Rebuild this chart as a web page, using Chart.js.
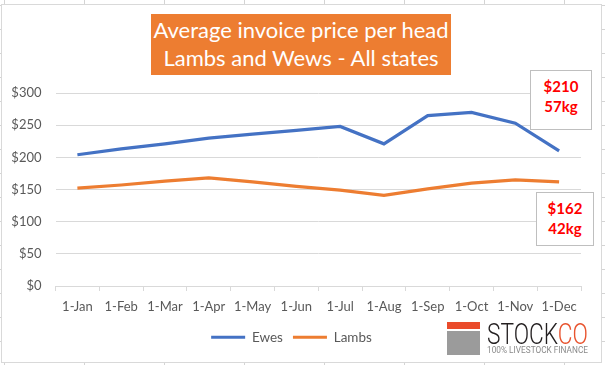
<!DOCTYPE html>
<html>
<head>
<meta charset="utf-8">
<script src="https://cdn.jsdelivr.net/npm/chart.js@4.4.1/dist/chart.umd.min.js"></script>
<style>
  html, body { margin: 0; padding: 0; }
  body {
    width: 605px; height: 365px; position: relative; overflow: hidden; background: #fff;
    background-image:
      linear-gradient(to right, #d4d4d4 1px, transparent 1px),
      linear-gradient(to bottom, #d4d4d4 1px, transparent 1px);
    background-size: 80px 100%, 100% 24px;
    background-position: 4px 0, 0 5px;
    font-family: Lato, "Open Sans", sans-serif;
  }
  #frame {
    position: absolute; left: 1px; top: 4px; width: 601px; height: 359px;
    box-sizing: border-box; border: 1px solid #d9d9d9; background: #fff;
  }
  #c { position: absolute; left: 0; top: 0; }
  #title {
    position: absolute; left: 149px; top: 9px; width: 300px; height: 61px;
    background: #ED7D31; color: #fff; font-size: 22px; line-height: 28px;
    text-align: center; padding-top: 2px; box-sizing: border-box;
  }
  .note {
    position: absolute; box-sizing: border-box; border: 1px solid #bfbfbf; background: #fff;
    color: #ff0000; font-weight: bold; font-size: 15px; line-height: 20px; text-align: center;
  }
  #note1 { left: 528px; top: 65px; width: 62px; height: 60px; padding-top: 5px; }
  #note2 { left: 534px; top: 187px; width: 58px; height: 54px; padding-top: 5px; }
  #logo-red { position: absolute; left: 445px; top: 317px; width: 33px; height: 7px; background: #EA4B2B; }
  #logo-grey { position: absolute; left: 445px; top: 326px; width: 33px; height: 24px; background: #9b9b9b; }
  #logo-word { position: absolute; left: 485px; top: 312px; font-family: Roboto, sans-serif; font-weight: 300; font-size: 29px; line-height: 34px; white-space: nowrap; color: #231f20; transform-origin: 0 0; }
  #logo-word span { color: #E8542F; }
  #logo-sub { position: absolute; left: 485px; top: 340px; font-family: Roboto, sans-serif; font-size: 9px; line-height: 11px; white-space: nowrap; color: #8a8a8a; transform-origin: 0 0; }
</style>
</head>
<body>
<div id="frame">
  <canvas id="c" width="599" height="357"></canvas>
  <div id="title">Average invoice price per head<br>Lambs and Wews - All states</div>
  <div class="note" id="note1">$210<br>57kg</div>
  <div class="note" id="note2">$162<br>42kg</div>
  <div id="logo-red"></div>
  <div id="logo-grey"></div>
  <div id="logo-word">STOCK<span>CO</span></div>
  <div id="logo-sub">100% LIVESTOCK FINANCE</div>
</div>
<script>
const months = ['1-Jan','1-Feb','1-Mar','1-Apr','1-May','1-Jun','1-Jul','1-Aug','1-Sep','1-Oct','1-Nov','1-Dec'];
const ewes  = [204, 213, 221, 230, 236, 242, 248, 221, 265, 270, 253, 210];
const lambs = [152, 157, 163, 168, 162, 155, 149, 141, 151, 160, 165, 162];
const yTicks = [0, 50, 100, 150, 200, 250, 300];

function fitWidth(id, target) {
  const el = document.getElementById(id);
  const w = el.getBoundingClientRect().width;
  el.style.transform = 'scaleX(' + (target / w) + ')';
}
fitWidth('logo-word', 101);
fitWidth('logo-sub', 101);

const tickColor = '#595959';
const gridColor = '#d9d9d9';

new Chart(document.getElementById('c'), {
  type: 'line',
  data: {
    labels: months,
    datasets: [
      { label: 'Ewes', data: ewes, borderColor: '#4472C4', backgroundColor: '#4472C4', borderWidth: 3.25, pointRadius: 0, tension: 0 },
      { label: 'Lambs', data: lambs, borderColor: '#ED7D31', backgroundColor: '#ED7D31', borderWidth: 3.25, pointRadius: 0, tension: 0 }
    ]
  },
  options: {
    responsive: false,
    devicePixelRatio: 1,
    animation: false,
    layout: { padding: { top: 88, right: 20, left: 0, bottom: 8 } },
    plugins: {
      title: { display: false },
      tooltip: { enabled: false },
      legend: {
        position: 'bottom',
        labels: {
          boxWidth: 34, boxHeight: 3, padding: 10, color: tickColor,
          font: { family: 'Lato', size: 13.5 },
          generateLabels(chart) {
            return Chart.defaults.plugins.legend.labels.generateLabels(chart).map(l => Object.assign(l, { lineWidth: 0 }));
          }
        }
      }
    },
    scales: {
      x: {
        offset: true,
        grid: { offset: true, drawOnChartArea: false, tickLength: 5, color: gridColor },
        border: { color: gridColor },
        ticks: { color: tickColor, font: { family: 'Lato', size: 13 }, padding: 8, maxRotation: 0, autoSkip: false },
        afterFit(s) { s.height = 34.5; }
      },
      y: {
        min: 0, max: 300,
        afterBuildTicks(s) { s.ticks = yTicks.map(v => ({ value: v })); },
        grid: { color: gridColor, drawTicks: false },
        border: { display: false },
        ticks: { color: tickColor, font: { family: 'Lato', size: 13 }, padding: 14, callback: v => '$' + v },
        afterFit(s) { s.width = 53.5; }
      }
    }
  }
});
</script>
</body>
</html>
